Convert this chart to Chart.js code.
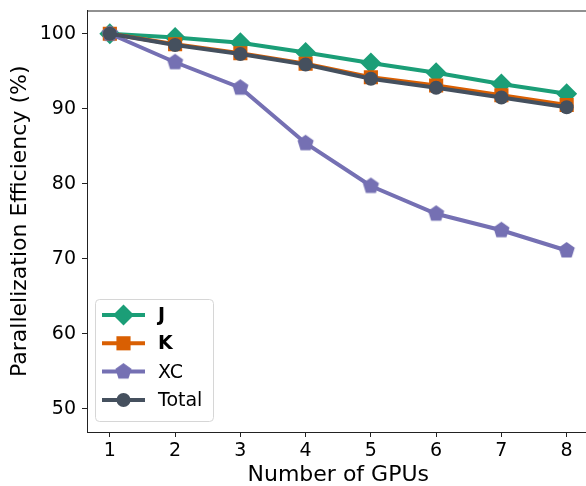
<!DOCTYPE html>
<html>
<head>
<meta charset="utf-8">
<script src="https://cdn.jsdelivr.net/npm/chart.js@4/dist/chart.umd.min.js"></script>
<style>
  html, body { margin: 0; padding: 0; background: #fff; overflow: hidden; }
  #wrap { width: 586px; height: 486px; overflow: hidden; position: relative; }
  canvas { display: block; }
</style>
</head>
<body>
<div id="wrap"><canvas id="c" width="600" height="486"></canvas></div>
<script>
// Parallel efficiency (%) of each component versus GPU count
const gpus = [1, 2, 3, 4, 5, 6, 7, 8];
const jEff = [100, 99.5, 98.8, 97.5, 96.1, 94.8, 93.3, 92.0];
const kEff = [100, 98.6, 97.4, 96.0, 94.2, 93.1, 91.8, 90.5];
const xcEff = [100, 96.2, 92.8, 85.4, 79.7, 76.0, 73.8, 71.1];
const totalEff = [100, 98.5, 97.3, 95.9, 94.0, 92.8, 91.5, 90.2];
const seriesNames = ['J', 'K', 'XC', 'Total'];
const xTicks = [1, 2, 3, 4, 5, 6, 7, 8];
const yTicks = [50, 60, 70, 80, 90, 100];

const FONT = "'DejaVu Sans', sans-serif";
const colors = ['#1b9e77', '#d95f02', '#7570b3', '#45505e'];

// pentagon marker as an image point style
function pentagonImage(r, color) {
  const s = Math.ceil(2 * r + 2);
  const c = document.createElement('canvas');
  c.width = s; c.height = s;
  const g = c.getContext('2d');
  g.fillStyle = color;
  g.beginPath();
  for (let i = 0; i < 5; i++) {
    const a = -Math.PI / 2 + i * 2 * Math.PI / 5;
    const px = s / 2 + r * Math.cos(a), py = s / 2 + r * Math.sin(a);
    if (i === 0) g.moveTo(px, py); else g.lineTo(px, py);
  }
  g.closePath();
  g.fill();
  return c;
}

const pent = pentagonImage(8.5, colors[2]);
const styles = ['rectRot', 'rect', pent, 'circle'];
const radii = [10.5, 10, 8.5, 7];
const orders = [3, 2, 1, 0];
const values = [jEff, kEff, xcEff, totalEff];

const datasets = seriesNames.map((name, i) => ({
  label: name,
  data: gpus.map((g, k) => ({ x: g, y: values[i][k] })),
  borderColor: colors[i],
  backgroundColor: colors[i],
  borderWidth: 4,
  pointStyle: styles[i],
  pointRadius: radii[i],
  pointHoverRadius: radii[i],
  pointBorderWidth: 0,
  pointBackgroundColor: colors[i],
  order: orders[i],
  tension: 0
}));

function drawMarker(ctx, i, x, y) {
  const r = radii[i];
  ctx.fillStyle = colors[i];
  ctx.beginPath();
  if (i === 0) {
    ctx.moveTo(x - r, y); ctx.lineTo(x, y - r); ctx.lineTo(x + r, y); ctx.lineTo(x, y + r);
    ctx.closePath(); ctx.fill();
  } else if (i === 1) {
    const h = r * Math.SQRT1_2;
    ctx.rect(x - h, y - h, 2 * h, 2 * h); ctx.fill();
  } else if (i === 2) {
    ctx.drawImage(pent, x - pent.width / 2, y - pent.height / 2);
  } else {
    ctx.arc(x, y, r, 0, Math.PI * 2); ctx.fill();
  }
}

// top and right frame lines of the plot area
const frame = {
  id: 'frame',
  beforeDatasetsDraw(chart) {
    const { ctx, chartArea: a } = chart;
    ctx.save();
    ctx.strokeStyle = '#222';
    ctx.lineWidth = 1;
    ctx.beginPath();
    ctx.moveTo(a.left, a.top + 0.5);
    ctx.lineTo(a.right, a.top + 0.5);
    ctx.moveTo(a.right - 0.5, a.top);
    ctx.lineTo(a.right - 0.5, a.bottom);
    ctx.stroke();
    ctx.restore();
  }
};

// legend box with line + marker samples
const lineLegend = {
  id: 'lineLegend',
  afterDraw(chart) {
    const ctx = chart.ctx;
    ctx.save();
    const bx = 95.5, by = 299.5, bw = 118, bh = 122, rr = 4;
    ctx.beginPath();
    ctx.moveTo(bx + rr, by);
    ctx.arcTo(bx + bw, by, bx + bw, by + bh, rr);
    ctx.arcTo(bx + bw, by + bh, bx, by + bh, rr);
    ctx.arcTo(bx, by + bh, bx, by, rr);
    ctx.arcTo(bx, by, bx + bw, by, rr);
    ctx.closePath();
    ctx.fillStyle = 'rgba(255,255,255,0.8)';
    ctx.fill();
    ctx.strokeStyle = '#d6d6d6';
    ctx.lineWidth = 1;
    ctx.stroke();
    const rows = [315, 343.3, 371.6, 400];
    seriesNames.forEach((name, i) => {
      const y = rows[i];
      ctx.strokeStyle = colors[i];
      ctx.lineWidth = 4;
      ctx.beginPath();
      ctx.moveTo(102, y); ctx.lineTo(145, y);
      ctx.stroke();
      drawMarker(ctx, i, 123.5, y);
      ctx.fillStyle = '#000';
      ctx.font = (i < 2 ? 'bold ' : '') + '19px ' + FONT;
      ctx.textBaseline = 'middle';
      ctx.textAlign = 'left';
      ctx.fillText(name, 158, y + 1);
    });
    ctx.restore();
  }
};

new Chart(document.getElementById('c'), {
  type: 'line',
  data: { datasets },
  options: {
    responsive: false,
    animation: false,
    events: [],
    layout: { padding: { top: 10, right: 10, left: 0, bottom: 0 } },
    plugins: { legend: { display: false }, tooltip: { enabled: false } },
    scales: {
      x: {
        type: 'linear',
        min: 0.65, max: 8.35,
        afterFit(s) { s.height = 54; s.paddingLeft = 0; s.paddingRight = 0; },
        afterBuildTicks(s) { s.ticks = xTicks.map(v => ({ value: v })); },
        grid: { drawOnChartArea: false, drawTicks: true, tickLength: 5, color: '#222', lineWidth: 1 },
        border: { display: true, color: '#222', width: 1 },
        ticks: { color: '#000', font: { family: FONT, size: 19 }, padding: 3, maxRotation: 0 },
        title: { display: true, text: 'Number of GPUs', color: '#000', font: { family: FONT, size: 22, lineHeight: 1.0 }, padding: { top: 0, bottom: 0 } }
      },
      y: {
        type: 'linear',
        min: 46.9, max: 103.1,
        afterFit(s) { s.width = 87; s.paddingTop = 0; s.paddingBottom = 0; },
        afterBuildTicks(s) { s.ticks = yTicks.map(v => ({ value: v })); },
        grid: { drawOnChartArea: false, drawTicks: true, tickLength: 5, color: '#222', lineWidth: 1 },
        border: { display: true, color: '#222', width: 1 },
        ticks: { color: '#000', font: { family: FONT, size: 19 }, padding: 6 },
        title: { display: true, text: 'Parallelization Efficiency (%)', color: '#000', font: { family: FONT, size: 22, lineHeight: 1.2 }, padding: { top: 7, bottom: 0 } }
      }
    }
  },
  plugins: [frame, lineLegend]
});
</script>
</body>
</html>
